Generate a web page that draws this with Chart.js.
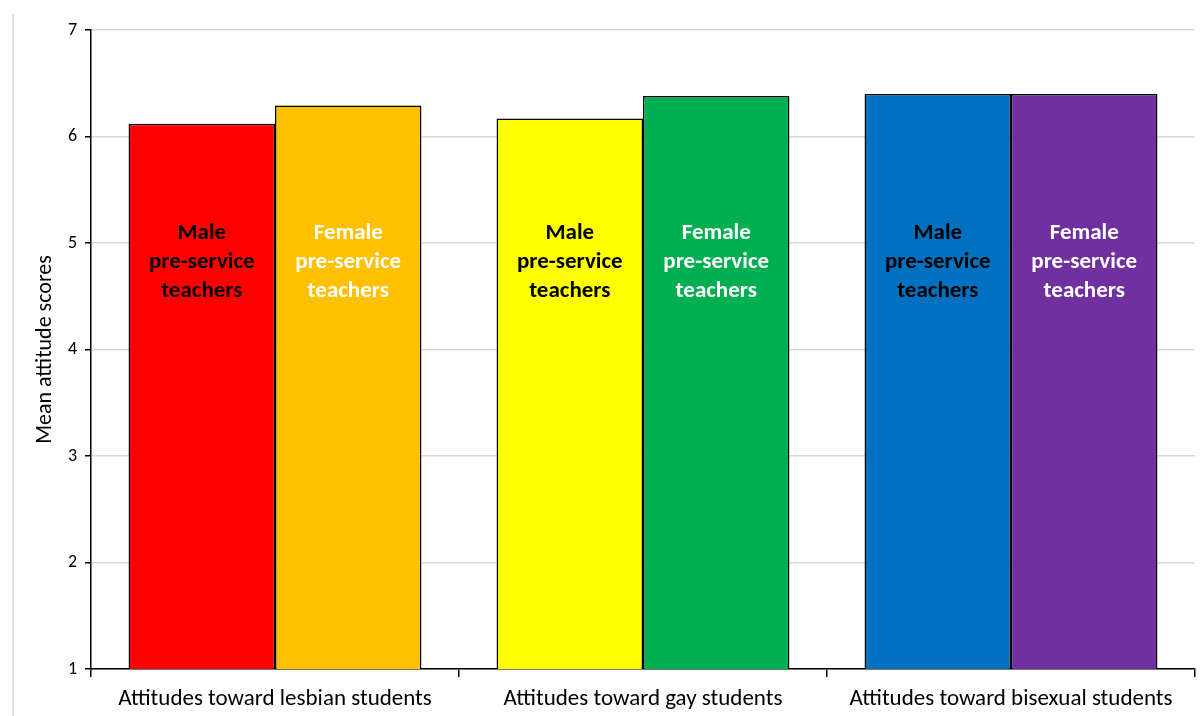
<!DOCTYPE html>
<html>
<head>
<meta charset="utf-8">
<script src="https://cdn.jsdelivr.net/npm/chart.js@4.4.0/dist/chart.umd.min.js"></script>
<style>
  html, body { margin: 0; padding: 0; background: #fff; }
  #wrap { position: relative; width: 1202px; height: 716px; }
</style>
</head>
<body>
<div id="wrap"><canvas id="chart" width="1202" height="716"></canvas></div>
<script>
// ── Données ───────────────────────────────────────────────────
var categories   = ['Attitudes toward lesbian students', 'Attitudes toward gay students', 'Attitudes toward bisexual students'];
var maleScores   = [6.12, 6.17, 6.40];
var femaleScores = [6.29, 6.38, 6.40];
var maleColors   = ['#FF0000', '#FFFF00', '#0070C0'];
var femaleColors = ['#FFC000', '#00B050', '#7030A0'];
var maleLabel    = ['Male', 'pre-service', 'teachers'];
var femaleLabel  = ['Female', 'pre-service', 'teachers'];
var yTicks       = [1, 2, 3, 4, 5, 6, 7];
var labelCenter  = 4.82;   // niveau (échelle y) où les textes sont centrés

var FONT = 'Carlito, Lato, "Liberation Sans", sans-serif';

// ── Textes dans les barres ────────────────────────────────────
var barText = {
  id: 'barText',
  afterDatasetsDraw: function (chart) {
    var ctx = chart.ctx;
    var yc  = chart.scales.y.getPixelForValue(labelCenter);
    ctx.save();
    ctx.font = 'bold 23px ' + FONT;
    ctx.textAlign = 'center';
    ctx.textBaseline = 'middle';
    chart.data.datasets.forEach(function (ds, di) {
      var lines = ds.textLines;
      chart.getDatasetMeta(di).data.forEach(function (bar) {
        ctx.fillStyle = ds.textColor;
        lines.forEach(function (t, i) {
          ctx.fillText(t, bar.x, yc + (i - 1) * 29);
        });
      });
    });
    ctx.restore();
  }
};

// ── Cadre gris à gauche ───────────────────────────────────────
var frame = {
  id: 'frame',
  beforeDraw: function (chart) {
    var ctx = chart.ctx;
    ctx.save();
    ctx.strokeStyle = '#e3e3e3';
    ctx.lineWidth = 2;
    ctx.beginPath();
    ctx.moveTo(13, 14);
    ctx.lineTo(13, 716);
    ctx.stroke();
    ctx.restore();
  }
};

new Chart(document.getElementById('chart'), {
  type: 'bar',
  data: {
    labels: categories,
    datasets: [
      {
        label: 'Male pre-service teachers',
        data: maleScores,
        backgroundColor: maleColors,
        textLines: maleLabel,
        textColor: '#000000'
      },
      {
        label: 'Female pre-service teachers',
        data: femaleScores,
        backgroundColor: femaleColors,
        textLines: femaleLabel,
        textColor: '#FFFFFF'
      }
    ]
  },
  options: {
    responsive: false,
    animation: false,
    layout: { padding: { top: 30, right: 7, left: 0, bottom: 0 } },
    datasets: {
      bar: {
        borderColor: '#000000',
        borderWidth: 1.5,
        borderSkipped: false,
        categoryPercentage: 0.796,
        barPercentage: 1.0
      }
    },
    plugins: {
      legend: { display: false },
      tooltip: { enabled: false }
    },
    scales: {
      x: {
        offset: true,
        grid: {
          offset: true,
          drawOnChartArea: false,
          drawTicks: true,
          tickLength: 8,
          color: '#000000',
          lineWidth: 1.5
        },
        border: { color: '#000000', width: 1.5 },
        ticks: {
          color: '#000000',
          padding: 8,
          font: { family: FONT, size: 23 }
        },
        afterFit: function (s) { s.height = 47; }
      },
      y: {
        min: 1,
        max: 7,
        afterBuildTicks: function (s) { s.ticks = yTicks.map(function (v) { return { value: v }; }); },
        grid: {
          color: '#d9d9d9',
          lineWidth: 1.5,
          drawTicks: true,
          tickLength: 6,
          tickColor: '#000000'
        },
        border: { color: '#000000', width: 1.5 },
        ticks: {
          color: '#000000',
          padding: 8,
          font: { family: FONT, size: 18 }
        },
        title: {
          display: true,
          text: 'Mean attitude scores',
          color: '#000000',
          padding: { top: 32, bottom: 0 },
          font: { family: FONT, size: 22 }
        },
        afterFit: function (s) { s.width = 91; }
      }
    }
  },
  plugins: [frame, barText]
});
</script>
</body>
</html>
